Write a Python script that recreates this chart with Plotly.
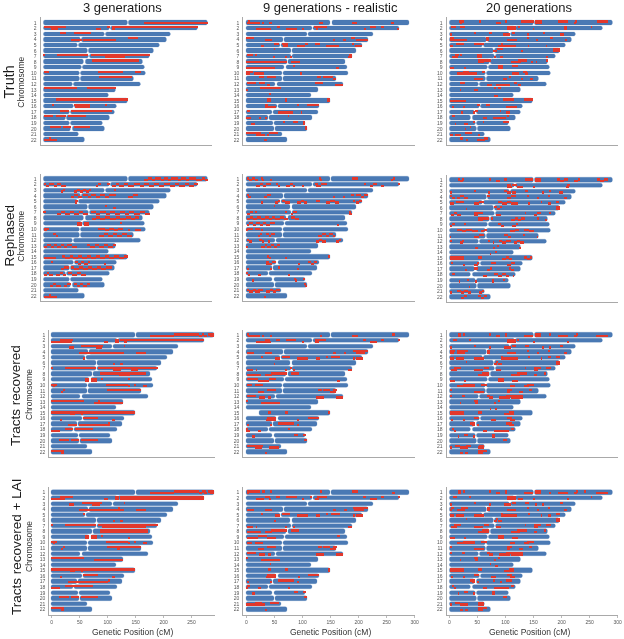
import plotly.graph_objects as go

W, H = 624, 639
CHROMS = list(range(1, 23))
LENGTHS = [291, 273, 226, 218, 207, 196, 189, 176, 179, 181, 160, 173, 128, 115, 149, 130, 127, 118, 105, 109, 63, 73]
CENTRO = {1: 151, 2: 118, 3: 109, 4: 67, 5: 61, 6: 80, 7: 81, 8: 73, 9: 69, 10: 65, 11: 65, 12: 53,
          16: 55, 17: 47, 18: 40, 19: 48, 20: 50}
COL_TITLES = ["3 generations", "9 generations - realistic", "20 generations"]
ROW_TITLES = ["Truth", "Rephased", "Tracts recovered", "Tracts recovered + LAI"]
X_TICKS_3 = [0, 50, 100, 150, 200, 250]
X_TICKS_OTHER = [0, 50, 100, 150, 200, 250, 300]

# Each entry: (chromosome, first haplotype, breakpoints in cM); consecutive intervals alternate haplotype.
TRUTH_3 = [(1,1,[177,291]),(2,0,[0,39]),(2,1,[13,25]),(2,1,[93,101]),(2,0,[113,118]),(2,0,[121,273]),(2,1,[121,126]),
 (3,0,[29,40]),(3,0,[53,84]),(4,1,[48,67]),(4,1,[69,128]),(4,0,[150,168]),(7,0,[0,2]),(7,0,[24,79]),(7,0,[83,189]),(7,1,[109,144]),
 (8,0,[86,169]),(10,0,[0,10]),(10,0,[97,140]),(10,0,[161,172]),(11,0,[98,157]),(13,0,[0,58]),(13,0,[76,128]),(15,0,[22,149]),
 (16,0,[14,18]),(16,0,[54,82]),(16,1,[56,82]),(16,0,[108,112]),(17,0,[28,45]),(17,0,[48,121]),(18,0,[0,16]),(18,0,[22,39]),(18,0,[43,74]),
 (20,0,[11,30]),(20,0,[34,49]),(20,0,[53,82]),(22,1,[0,24]),(22,0,[10,13])]

REPHASED_3 = [(1,1,[178,184,192,197,208,214,220,226,238,244,252,258,270,280,286,291]),(2,0,[0,4,10,18,24,30,39]),(2,1,[93,97,101]),(2,0,[113,118]),
 (2,1,[121,128,134,142,150,160,170,178,186,196,204,214,224,232,240,250,258,266,273]),(3,1,[30,34,38]),(3,1,[53,58,64,70,74,80,84]),(3,0,[126,128]),
 (4,1,[48,54,60,67]),(4,0,[70,78,84,92,100,108,116,128]),(4,1,[150,158,168]),(5,0,[55,60]),(5,1,[56,59]),(6,0,[110,113]),(6,1,[122,128]),
 (7,0,[0,3]),(7,1,[24,30,38,46,54,62,70,79]),(7,0,[83,92,100,110,118,126,136,144,152,160,170,180,189]),(8,1,[86,92,100,108,118,128,136,146,154,162,169]),
 (9,1,[59,68]),(9,0,[59,68]),(9,0,[71,80]),(9,1,[71,80]),(9,0,[136,138]),(10,1,[0,5,10]),(10,0,[0,6]),(10,0,[97,108,116,124,132,140]),(10,1,[150,152]),(10,1,[161,172]),
 (11,0,[18,21]),(11,1,[22,25]),(11,1,[98,106,114,122,130,138,148,157]),(13,1,[0,6,12,18,24,30,36,42,50,58]),(13,0,[76,82,90,98,106,114,122,128]),
 (15,1,[0,22]),(15,0,[33,38,46,52,60,68,76,84,92,100,108,116,124,134,142,149]),(16,0,[14,17]),(16,0,[55,60,66,72,78,82]),(16,1,[108,111]),
 (17,1,[30,36,45]),(17,0,[48,54,62,70,78,86,94,102,110,121]),(18,1,[0,5,10,16]),(18,1,[22,28,34,39]),(18,0,[43,50,58,66,74]),
 (20,1,[11,16,22,30]),(20,1,[36,42,49]),(20,0,[53,58,64,70,76,82]),(22,1,[0,24]),(22,0,[10,13])]

TRACTS_3 = [(1,1,[177,220]),(1,0,[220,264]),(1,1,[264,270]),(1,0,[270,272]),(1,1,[272,278]),(1,0,[280,290]),(1,1,[284,290]),
 (2,1,[0,20]),(2,0,[15,38]),(2,1,[15,37]),(2,1,[94,102]),(2,0,[113,120]),(2,1,[113,120]),(2,0,[123,273]),(2,1,[130,135]),
 (3,1,[31,40]),(3,0,[53,89]),(3,1,[80,90]),(3,0,[89,92]),(3,0,[130,131]),(4,1,[50,129]),(4,1,[152,170]),(5,1,[57,59]),(6,1,[111,113]),(6,1,[122,128]),
 (7,0,[0,3]),(7,0,[25,80]),(7,0,[84,190]),(7,1,[111,125]),(7,1,[143,155]),(8,0,[87,170]),(8,1,[120,140]),(9,0,[60,68]),(9,1,[60,68]),(9,0,[71,82]),(9,1,[71,82]),(9,0,[90,92]),(9,0,[138,140]),
 (10,0,[0,10]),(10,1,[4,6]),(10,0,[98,137]),(10,1,[137,140]),(10,0,[148,150]),(10,1,[163,171]),(11,1,[18,21]),(11,0,[22,25]),(11,0,[99,160]),
 (13,0,[0,59]),(13,0,[84,87]),(13,1,[77,128]),(15,0,[0,149]),(15,1,[34,42]),(15,1,[53,57]),(16,1,[16,19]),(16,0,[56,84]),(16,1,[110,113]),
 (17,1,[30,46]),(17,1,[49,104]),(17,0,[102,105]),(18,1,[0,16]),(18,0,[24,39]),(18,0,[42,74]),(20,0,[13,31]),(20,0,[35,50]),(20,0,[53,84]),(22,0,[0,23]),(22,1,[17,22])]

LAI_3 = [(1,1,[177,220]),(1,0,[220,264]),(1,1,[264,270]),(1,0,[270,276]),(1,1,[272,278]),(1,0,[280,291]),(1,1,[284,291]),
 (2,1,[0,25]),(2,0,[15,38]),(2,1,[94,102]),(2,0,[113,120]),(2,1,[113,120]),(2,0,[123,273]),(2,1,[123,273]),(3,1,[31,40]),(3,0,[54,90]),(3,1,[72,86]),(3,0,[130,131]),
 (4,1,[50,129]),(4,0,[120,122]),(4,1,[152,170]),(5,0,[57,59]),(6,1,[111,113]),(6,1,[122,128]),(7,0,[0,3]),(7,0,[25,80]),(7,0,[84,190]),(7,1,[90,170]),
 (8,0,[87,172]),(8,1,[87,172]),(9,0,[60,68]),(9,1,[60,68]),(9,0,[71,82]),(9,1,[71,82]),(9,0,[90,92]),(9,1,[138,140]),(10,0,[0,10]),(10,1,[4,6]),(10,0,[98,137]),(10,1,[137,140]),(10,0,[148,150]),(10,1,[163,171]),
 (11,1,[18,21]),(11,0,[22,25]),(11,0,[99,160]),(11,1,[118,122]),(13,0,[0,59]),(13,0,[50,52]),(13,1,[77,128]),(15,0,[0,149]),(15,1,[34,42]),(15,1,[53,57]),
 (16,1,[16,19]),(16,0,[56,84]),(16,1,[110,113]),(17,1,[30,102]),(17,0,[102,105]),(18,1,[0,16]),(18,0,[24,74]),(20,0,[13,31]),(20,0,[35,50]),(20,0,[53,84]),(22,0,[0,23]),(22,1,[17,23])]

TRUTH_9 = [(1,1,[1,24]),(1,0,[3,5]),(1,1,[28,32]),(1,1,[41,46]),(1,1,[130,136]),(1,1,[188,198]),(1,1,[258,264]),
 (2,1,[17,44]),(2,0,[55,60]),(2,1,[71,90]),(2,1,[99,103]),(2,0,[121,144]),(2,1,[124,128]),(2,1,[210,214]),(2,0,[220,232]),(2,0,[240,246]),(2,1,[270,272]),
 (4,0,[0,14]),(4,1,[33,46]),(4,1,[154,159]),(4,1,[172,178]),(4,0,[186,194]),(4,1,[196,218]),(5,1,[27,31]),(5,0,[50,59]),(5,0,[63,74]),(5,1,[65,74]),(5,1,[90,104]),(5,0,[104,110]),(5,0,[123,132]),(5,1,[143,166]),(5,0,[189,193]),(5,1,[194,207]),
 (6,0,[50,51]),(7,0,[1,12]),(7,0,[17,19]),(7,1,[49,50]),(7,1,[70,72]),(7,1,[79,81]),(7,1,[182,188]),(7,0,[184,188]),(8,1,[0,72]),(8,1,[79,95]),
 (9,1,[0,52]),(9,0,[84,86]),(9,1,[160,166]),(10,0,[0,12]),(10,1,[0,6]),(10,1,[14,31]),(10,1,[97,99]),(11,0,[22,31]),(11,0,[37,53]),(11,0,[126,133]),(11,0,[136,155]),(11,1,[155,160]),
 (12,0,[1,17]),(12,0,[22,33]),(12,1,[37,43]),(12,0,[123,137]),(12,1,[159,172]),(13,1,[0,2]),(13,0,[25,61]),(14,0,[42,43]),(15,0,[37,44]),(15,1,[37,44]),(15,0,[69,72]),(15,1,[69,72]),(15,0,[144,149]),(15,1,[144,149]),
 (16,1,[34,53]),(16,0,[34,38]),(16,0,[92,94]),(16,0,[108,129]),(17,0,[2,6]),(17,1,[56,84]),(17,1,[98,99]),(18,1,[0,8]),(18,1,[22,27]),(18,1,[34,37]),(18,0,[75,76]),
 (19,1,[9,15]),(19,0,[67,69]),(19,0,[84,92]),(19,0,[101,105]),(19,1,[101,105]),(20,0,[104,108]),(20,1,[104,108]),(21,0,[0,27]),(21,1,[17,33]),(21,0,[40,57]),(21,1,[37,39]),(22,1,[31,36])]

REPHASED_9 = [(1,0,[1,5,10,16,22]),(1,0,[28,30,32]),(1,1,[43,46]),(1,0,[131,133,135]),(1,0,[189,199]),(1,1,[260,262,264]),
 (2,1,[17,24,30,36,44]),(2,0,[54,57,60]),(2,1,[72,78,83,88]),(2,1,[99,103]),(2,0,[122,128,134,144]),(2,1,[124,130]),(2,0,[210,214]),(2,1,[221,227,233]),(2,1,[240,246]),(2,0,[271,273]),
 (4,0,[1,5,8]),(4,1,[32,38,45]),(4,1,[154,159]),(4,1,[173,175]),(4,0,[187,192]),(4,0,[196,204,211,218]),(5,1,[28,30]),(5,1,[51,56,60]),(5,0,[64,70,78]),(5,1,[91,97,103,109]),(5,0,[125,131]),(5,1,[143,150,158,166]),(5,0,[190,194]),(5,1,[196,202,206]),
 (6,0,[50,51]),(7,1,[2,7,12]),(7,0,[17,18]),(7,0,[71,72]),(7,1,[80,84,90]),(7,1,[184,188]),(7,0,[184,186]),
 (8,1,[1,7,13,20,26,33,40,46,52,60,68,75]),(8,0,[80,88,95]),(9,1,[1,6,12,18,24,30,36,42,51]),(9,1,[162,166]),(10,0,[1,12]),(10,1,[1,4]),(10,0,[15,24]),(10,1,[27,29]),
 (11,1,[23,25,28]),(11,0,[36,40,45,51]),(11,1,[128,136,142,148,154,159]),(12,0,[1,6,11]),(12,0,[23,28,32]),(12,1,[39,43]),(12,1,[124,130,136,143]),(12,1,[160,165,170]),
 (13,1,[1,3]),(13,1,[27,33,38,44,50,55,60]),(15,0,[39,41,44]),(15,1,[71,73]),(15,0,[146,149]),(16,0,[35,41,47,54]),(16,1,[35,40]),(16,1,[93,95]),(16,0,[110,116,121,127]),
 (17,1,[3,5]),(17,1,[44,46]),(17,0,[56,60]),(17,1,[92,93]),(18,0,[1,3,7]),(18,1,[23,26]),(18,1,[76,77]),(19,1,[12,14]),(19,0,[86,88,91]),(19,0,[103,105]),(20,0,[104,106,108]),
 (21,0,[1,6,12,18,24,30]),(21,1,[15,22,28]),(21,1,[36,42,48,54,60]),(22,1,[33,36])]

TRACTS_9 = [(1,1,[3,24]),(1,0,[3,6]),(1,1,[28,32]),(1,1,[43,46]),(1,1,[131,136]),(1,1,[189,199]),(1,0,[260,265]),
 (2,1,[17,44]),(2,0,[34,42]),(2,0,[54,61]),(2,0,[71,89]),(2,1,[99,103]),(2,0,[122,142]),(2,1,[122,130]),(2,0,[210,213]),(2,1,[221,233]),(2,0,[240,246]),(2,0,[271,273]),
 (4,1,[1,14]),(4,1,[33,46]),(4,1,[155,160]),(4,1,[174,178]),(4,0,[191,218]),(4,1,[196,212]),(5,0,[28,31]),(5,1,[51,60]),(5,0,[64,78]),(5,1,[91,110]),(5,1,[125,131]),(5,0,[143,146]),(5,0,[152,167]),(5,1,[190,194]),(5,1,[196,208]),
 (6,1,[50,51]),(7,1,[1,12]),(7,1,[18,19]),(7,1,[71,72]),(7,0,[80,82]),(7,1,[85,87]),(7,1,[182,188]),(8,1,[1,27]),(8,1,[34,46]),(8,0,[44,73]),(8,0,[80,95]),
 (9,0,[1,22]),(9,1,[22,40]),(9,0,[40,53]),(9,1,[162,167]),(10,0,[1,11]),(10,0,[15,30]),(11,1,[22,32]),(11,0,[37,53]),(11,0,[128,135]),(11,0,[137,150]),(11,1,[150,160]),(11,0,[155,162]),
 (12,0,[1,17]),(12,1,[23,33]),(12,1,[39,44]),(12,1,[124,138]),(12,1,[160,172]),(13,0,[0,3]),(13,1,[27,61]),(15,0,[39,45]),(15,0,[71,74]),(15,0,[146,149]),
 (16,1,[35,54]),(16,0,[38,54]),(16,1,[92,94]),(16,0,[110,130]),(17,1,[3,6]),(17,1,[44,46]),(17,0,[56,85]),(17,1,[92,94]),(18,0,[0,3]),(18,1,[0,7]),(18,1,[22,27]),(18,0,[76,78]),
 (19,1,[12,15]),(19,0,[85,92]),(19,0,[103,106]),(20,0,[104,109]),(21,0,[2,31]),(21,1,[15,29]),(21,1,[41,58]),(22,1,[33,37])]

LAI_9 = [(1,0,[2,24]),(1,1,[3,6]),(1,0,[29,33]),(1,0,[44,47]),(1,0,[132,136]),(1,0,[189,199]),(1,1,[260,266]),
 (2,1,[17,32]),(2,0,[34,42]),(2,1,[40,44]),(2,0,[54,61]),(2,0,[71,90]),(2,1,[100,104]),(2,0,[115,117]),(2,0,[127,144]),(2,1,[122,130]),(2,0,[210,213]),(2,1,[221,233]),(2,0,[240,246]),(2,0,[271,273]),
 (4,1,[1,14]),(4,1,[33,46]),(4,1,[155,160]),(4,1,[174,180]),(4,0,[191,218]),(4,1,[192,210]),(5,0,[28,31]),(5,1,[51,60]),(5,0,[64,78]),(5,1,[91,110]),(5,1,[125,131]),(5,0,[143,146]),(5,0,[152,167]),(5,1,[190,194]),(5,1,[196,208]),
 (6,1,[50,52]),(7,1,[1,12]),(7,1,[18,19]),(7,1,[70,72]),(7,1,[85,87]),(7,1,[182,189]),(8,1,[1,27]),(8,1,[34,46]),(8,0,[44,73]),(8,0,[80,95]),
 (9,0,[22,38]),(9,1,[1,22]),(9,1,[38,53]),(9,0,[162,167]),(10,1,[1,11]),(10,1,[15,30]),(11,1,[22,32]),(11,0,[37,53]),(11,0,[128,135]),(11,0,[137,150]),(11,1,[150,160]),(11,0,[155,162]),
 (12,0,[1,17]),(12,1,[23,33]),(12,1,[39,44]),(12,1,[124,138]),(12,1,[160,172]),(13,0,[0,3]),(13,1,[27,61]),(14,0,[43,44]),(15,0,[39,45]),(15,0,[71,74]),(15,0,[146,149]),(15,1,[146,149]),
 (16,1,[35,54]),(16,0,[38,54]),(16,1,[93,95]),(16,0,[110,130]),(17,1,[3,6]),(17,1,[44,46]),(17,0,[56,85]),(17,1,[92,94]),(18,1,[0,3]),(18,0,[2,7]),(18,1,[22,27]),(18,1,[76,78]),
 (19,1,[12,15]),(19,0,[85,92]),(19,0,[103,106]),(20,0,[104,109]),(21,1,[0,33]),(21,0,[15,29]),(21,0,[42,58]),(22,1,[33,37])]

TRUTH_20 = [(1,0,[16,26]),(1,1,[18,22]),(1,0,[54,55]),(1,1,[83,91]),(1,0,[99,101]),(1,0,[128,151]),(1,0,[153,164]),(1,1,[153,164]),(1,0,[193,211]),(1,0,[224,227]),(1,1,[221,225]),(1,0,[263,282]),
 (2,0,[2,12]),(2,0,[19,28]),(2,0,[103,118]),(2,1,[103,118]),(2,0,[121,126]),(2,1,[149,150]),(2,0,[204,209]),(2,1,[204,209]),(2,0,[252,253]),
 (3,1,[1,3]),(3,0,[44,46]),(3,0,[71,76]),(3,1,[96,108]),(3,0,[111,117]),(3,1,[137,141]),(3,0,[167,169]),(3,1,[196,204]),
 (4,0,[0,7]),(4,1,[0,7]),(4,1,[7,31]),(4,0,[65,70]),(4,1,[65,70]),(4,1,[103,120]),(4,0,[138,141]),(4,1,[155,156]),(4,0,[178,184]),(4,1,[205,209]),
 (5,1,[1,6]),(5,0,[12,26]),(5,0,[44,62]),(5,1,[87,119]),(5,0,[93,96]),(5,1,[140,141]),(5,1,[172,173]),(6,1,[78,84]),(6,0,[85,96]),(6,1,[128,129]),(6,0,[185,196]),(6,1,[185,196]),
 (7,1,[4,15]),(7,0,[10,16]),(7,0,[20,21]),(7,0,[48,57]),(7,1,[48,57]),(7,1,[79,83]),(7,1,[90,95]),(7,1,[172,176]),(8,0,[51,62]),(8,1,[51,62]),(8,0,[62,73]),(8,1,[109,127]),(8,0,[122,138]),(8,1,[146,148]),(8,1,[154,155]),(8,0,[172,176]),
 (9,1,[1,7]),(9,1,[25,29]),(9,0,[87,96]),(9,1,[87,96]),(9,0,[111,122]),(10,0,[24,34]),(10,1,[14,49]),(10,0,[57,63]),(10,1,[112,124]),(10,0,[131,137]),(10,1,[134,140]),
 (11,1,[43,60]),(11,1,[96,102]),(11,0,[105,109]),(11,1,[128,131]),(11,1,[143,149]),(12,0,[19,27]),(12,1,[66,75]),(12,1,[83,107]),(12,0,[114,120]),(12,1,[122,128]),
 (13,1,[19,20]),(13,1,[43,50]),(13,0,[79,83]),(13,0,[87,91]),(14,1,[79,86]),(15,1,[0,30]),(15,0,[96,115]),(15,0,[132,149]),(16,1,[5,7]),(16,1,[24,28]),(16,0,[49,54]),(16,0,[65,72]),(16,1,[100,120]),
 (17,1,[22,24]),(17,1,[41,45]),(17,0,[46,50]),(17,0,[90,91]),(17,1,[101,107]),(18,0,[4,10]),(18,1,[60,66]),(18,1,[78,100]),(18,0,[103,106]),(19,1,[10,11]),(19,1,[26,32]),(19,0,[43,46]),(19,0,[60,61]),(19,0,[96,105]),
 (20,1,[28,29]),(20,0,[37,38]),(21,1,[1,6]),(21,1,[10,20]),(21,0,[28,40]),(21,1,[50,54]),(22,0,[19,24]),(22,1,[29,33]),(22,1,[48,63]),(22,0,[62,68])]

REPHASED_20 = [(1,0,[15,19,23,26]),(1,0,[71,73]),(1,1,[82,90]),(1,0,[97,102]),(1,0,[135,149]),(1,0,[153,163]),(1,1,[153,163]),(1,0,[192,197,203,211]),(1,1,[222,228,233]),(1,0,[262,268,275,282]),
 (2,1,[103,112,120,130]),(2,0,[103,110]),(2,1,[150,151]),(2,0,[209,214]),(2,1,[209,212]),(3,1,[1,5]),(3,0,[45,47]),(3,1,[70,72]),(3,0,[97,103,110]),(3,1,[112,118]),(3,0,[135,140]),(3,1,[166,167]),(3,0,[178,179]),(3,1,[195,202]),
 (4,0,[1,5,9]),(4,1,[14,19,25,33]),(4,0,[67,72]),(4,1,[103,110,118]),(4,0,[138,140]),(4,1,[157,158]),(4,0,[177,178]),(4,1,[203,210]),(5,1,[1,7]),(5,0,[12,26]),(5,1,[44,52,62]),(5,0,[86,94,102,110,121]),(5,1,[141,143]),(5,0,[163,164]),(5,1,[177,180]),(5,0,[190,195]),
 (6,1,[30,31]),(6,0,[79,84,89,94]),(6,0,[189,196]),(6,1,[189,196]),(7,1,[2,8,14,20]),(7,1,[44,50,59]),(7,0,[44,54]),(7,1,[82,92]),(7,0,[135,136]),(7,1,[150,156,162]),(7,0,[177,181]),
 (8,1,[51,60,70]),(8,0,[51,60]),(8,0,[74,77]),(8,1,[110,116,122,128,135]),(8,0,[156,158]),(8,1,[171,172]),(9,1,[1,5,9]),(9,0,[26,28]),(9,0,[86,92,97]),(9,1,[112,118,122]),
 (10,0,[14,22,30,40,50]),(10,1,[56,62,67]),(10,1,[108,116,124]),(10,0,[133,142,150]),(11,1,[1,2]),(11,1,[43,52,62]),(11,0,[97,104,110]),(11,0,[130,135]),(11,1,[156,157]),
 (12,0,[1,3]),(12,1,[19,23,26]),(12,0,[70,72]),(12,1,[78,79]),(12,0,[88,94,101,109]),(12,1,[114,120,126,133]),(13,1,[45,50]),(13,1,[79,80]),(13,0,[86,88]),(13,1,[124,128]),(14,1,[72,73]),(14,0,[80,84]),
 (15,0,[1,25]),(15,1,[1,25]),(15,0,[50,57]),(15,1,[94,100,106,112]),(15,0,[133,138,143,147]),(16,0,[3,5]),(16,1,[25,26]),(16,1,[44,50,53]),(16,0,[73,82]),(16,1,[103,110,116]),
 (17,1,[29,30]),(17,0,[44,50]),(17,1,[67,72,76]),(17,0,[106,110,115]),(18,0,[4,9]),(18,1,[59,67]),(18,0,[79,86,94,100,106]),(18,1,[113,114]),(19,1,[17,18]),(19,0,[32,33]),(19,1,[47,49]),(19,0,[76,79]),(19,1,[76,79]),(19,0,[96,97]),
 (20,1,[35,36]),(21,1,[1,3]),(21,0,[14,20,26,32,38]),(21,1,[53,58,62]),(22,1,[20,25,31]),(22,0,[50,56,62,67])]

TRACTS_20 = [(1,0,[15,20]),(1,1,[15,20]),(1,0,[25,26]),(1,0,[71,73]),(1,1,[82,90]),(1,0,[98,102]),(1,1,[98,102]),(1,1,[132,149]),(1,0,[153,163]),(1,1,[153,163]),(1,0,[178,179]),(1,1,[193,211]),(1,1,[222,227]),(1,0,[226,229]),(1,1,[261,282]),
 (2,0,[6,13]),(2,0,[36,37]),(2,0,[103,118]),(2,1,[103,118]),(2,0,[121,124]),(2,1,[150,151]),(2,1,[209,213]),(3,1,[1,5]),(3,0,[45,47]),(3,1,[71,72]),(3,1,[97,110]),(3,0,[112,118]),(3,0,[135,141]),(3,1,[166,167]),(3,1,[178,179]),(3,0,[196,202]),
 (4,0,[1,9]),(4,1,[1,7]),(4,0,[14,33]),(4,1,[14,28]),(4,0,[67,72]),(4,1,[67,72]),(4,1,[103,118]),(4,0,[138,140]),(4,1,[157,158]),(4,0,[177,178]),(4,1,[203,210]),
 (5,1,[1,7]),(5,1,[12,26]),(5,1,[44,62]),(5,0,[92,95]),(5,1,[92,121]),(5,0,[141,143]),(5,1,[163,164]),(5,0,[177,180]),(5,0,[190,196]),(6,0,[30,31]),(6,1,[79,84]),(6,0,[82,86]),(6,1,[86,94]),(6,0,[189,196]),(6,1,[189,196]),
 (7,1,[2,14]),(7,0,[8,20]),(7,1,[44,59]),(7,0,[62,70]),(7,1,[82,92]),(7,0,[135,136]),(7,0,[150,162]),(7,1,[150,158]),(7,0,[172,181]),(8,1,[51,70]),(8,0,[58,70]),(8,1,[110,125]),(8,0,[120,138]),(8,1,[150,155]),(8,0,[168,172]),
 (9,1,[1,9]),(9,1,[26,28]),(9,0,[86,97]),(9,1,[86,97]),(9,1,[112,122]),(10,0,[24,46]),(10,1,[14,46]),(10,0,[56,66]),(10,1,[108,117]),(10,1,[133,142]),(10,0,[138,150]),
 (11,0,[1,3]),(11,1,[43,62]),(11,0,[103,111]),(11,1,[103,108]),(11,1,[123,130]),(11,0,[142,146]),(12,0,[1,3]),(12,0,[22,28]),(12,0,[66,72]),(12,1,[70,78]),(12,1,[88,107]),(12,0,[100,130]),(12,1,[110,130]),
 (13,1,[19,20]),(13,0,[44,50]),(13,1,[47,50]),(13,1,[80,81]),(13,0,[87,90]),(14,1,[72,73]),(14,1,[80,84]),(15,0,[1,25]),(15,1,[1,25]),(15,0,[50,58]),(15,1,[97,115]),(15,0,[105,115]),(16,1,[3,5]),(16,1,[24,26]),(16,0,[44,53]),(16,1,[73,82]),(16,0,[103,112]),(16,1,[108,116]),
 (17,0,[36,46]),(17,1,[40,46]),(17,1,[50,53]),(17,0,[100,112]),(17,1,[106,115]),(18,0,[4,8]),(18,1,[8,10]),(18,1,[59,66]),(18,1,[79,106]),(18,0,[110,114]),(19,1,[15,16]),(19,0,[26,32]),(19,1,[43,46]),(19,0,[76,80]),(19,1,[76,80]),(20,0,[96,102]),
 (21,1,[1,3]),(21,0,[10,18]),(21,1,[18,32]),(21,0,[30,38]),(21,1,[50,62]),(21,0,[52,62]),(22,1,[20,23]),(22,1,[28,32]),(22,0,[50,66]),(22,1,[50,60])]

LAI_20 = [(1,0,[15,20]),(1,1,[15,20]),(1,0,[25,26]),(1,0,[71,73]),(1,1,[82,90]),(1,0,[98,102]),(1,1,[98,102]),(1,1,[132,149]),(1,0,[153,163]),(1,1,[153,163]),(1,1,[178,179]),(1,1,[193,211]),(1,1,[222,227]),(1,0,[226,229]),(1,0,[241,243]),(1,1,[261,282]),
 (2,0,[6,13]),(2,0,[36,37]),(2,0,[103,118]),(2,1,[103,118]),(2,1,[122,130]),(2,1,[150,151]),(2,1,[209,213]),(2,0,[252,253]),(3,1,[1,3]),(3,0,[45,47]),(3,1,[71,74]),(3,1,[97,110]),(3,0,[112,118]),(3,0,[135,141]),(3,1,[152,156]),(3,1,[166,169]),(3,0,[196,202]),
 (4,1,[1,5]),(4,0,[3,7]),(4,1,[14,28]),(4,0,[20,33]),(4,0,[67,72]),(4,1,[67,72]),(4,1,[103,118]),(4,0,[138,140]),(4,1,[157,158]),(4,0,[177,178]),(4,1,[203,210]),
 (5,1,[1,7]),(5,1,[12,26]),(5,1,[44,62]),(5,0,[92,95]),(5,1,[92,120]),(5,0,[141,143]),(5,1,[163,164]),(5,1,[177,180]),(5,0,[190,196]),(6,0,[30,31]),(6,1,[79,84]),(6,0,[82,86]),(6,1,[86,94]),(6,0,[189,196]),(6,1,[189,196]),
 (7,1,[2,14]),(7,0,[8,20]),(7,1,[44,59]),(7,0,[62,70]),(7,1,[82,92]),(7,0,[135,136]),(7,0,[150,162]),(7,1,[150,158]),(7,0,[172,181]),(8,1,[51,70]),(8,0,[58,70]),(8,1,[110,125]),(8,0,[120,138]),(8,1,[150,155]),(8,0,[168,172]),
 (9,1,[1,9]),(9,1,[26,28]),(9,0,[86,97]),(9,1,[86,97]),(9,1,[112,122]),(10,0,[24,46]),(10,1,[14,46]),(10,0,[56,66]),(10,1,[108,117]),(10,1,[133,142]),(10,0,[138,150]),
 (11,0,[1,3]),(11,1,[43,62]),(11,0,[103,111]),(11,1,[103,108]),(11,1,[123,130]),(11,0,[142,146]),(12,0,[1,3]),(12,0,[22,28]),(12,0,[66,72]),(12,1,[70,78]),(12,1,[88,107]),(12,0,[100,130]),(12,1,[110,130]),
 (13,1,[19,20]),(13,0,[44,50]),(13,1,[47,50]),(13,1,[80,81]),(13,0,[87,90]),(14,0,[72,73]),(14,1,[80,86]),(15,0,[1,25]),(15,1,[1,25]),(15,0,[50,58]),(15,1,[97,115]),(15,0,[105,115]),(16,1,[3,5]),(16,1,[24,26]),(16,0,[44,53]),(16,1,[73,82]),(16,0,[103,112]),(16,1,[108,116]),
 (17,0,[36,46]),(17,1,[40,46]),(17,1,[50,53]),(17,0,[78,80]),(17,1,[90,92]),(17,0,[100,112]),(18,0,[4,8]),(18,1,[8,10]),(18,1,[59,66]),(18,1,[79,106]),(18,0,[110,114]),(19,1,[15,16]),(19,0,[26,32]),(19,1,[43,46]),(19,0,[76,80]),(19,1,[76,80]),(20,0,[96,102]),
 (21,1,[1,3]),(21,0,[10,18]),(21,1,[18,32]),(21,0,[50,62]),(21,1,[50,62]),(22,1,[20,23]),(22,1,[28,32]),(22,0,[50,66]),(22,1,[50,60])]

PANEL_DATA = [[TRUTH_3, TRUTH_9, TRUTH_20], [REPHASED_3, REPHASED_9, REPHASED_20],
              [TRACTS_3, TRACTS_9, TRACTS_20], [LAI_3, LAI_9, LAI_20]]

# Panel frames in pixels: left, right, top, bottom, x value at left, x value at right
FRAMES = [
    [(40.7, 212, 17.3, 145, -5, 299), (243.3, 415, 17.3, 145, -6, 300.5), (446.7, 618, 17.3, 145, -4.6, 300.5)],
    [(40.7, 212, 173.5, 301, -5, 299), (243.3, 415, 173.5, 301, -5.5, 300.5), (446.7, 618, 174.5, 302, -4.6, 300.5)],
    [(49.3, 215, 329.5, 457, -4.3, 292), (243.3, 415, 329.5, 457, -5.5, 300.5), (446.7, 618, 329.5, 457, -4.6, 300.5)],
    [(49.3, 215, 487, 614.5, -4.3, 292), (243.3, 415, 487, 614.5, -5.5, 300.5), (446.7, 618, 487, 614.5, -4.6, 300.5)],
]
BLUE, RED, AXIS, TEXT = "#4a79b4", "#e2382c", "#a9a9a9", "#1a1a1a"
GAP = 2.0
HAP_OFFSET = 0.16
fig = go.Figure()
layout = {}
for r in range(4):
    for c in range(3):
        n = r * 3 + c + 1
        xn, yn = f"x{n}", f"y{n}"
        L, R, T, B, x0, x1 = FRAMES[r][c]
        bl_y, bl_b, bl_x = [], [], []
        for chrom, length in zip(CHROMS, LENGTHS):
            start = 23 if (r == 2 and c == 1 and chrom == 15) else 0
            cen = CENTRO.get(chrom)
            if cen is None:
                bl_y.append(chrom); bl_b.append(start); bl_x.append(length - start)
            else:
                bl_y += [chrom, chrom]
                bl_b += [start, cen + GAP / 2]
                bl_x += [cen - GAP / 2 - start, length - cen - GAP / 2]
        fig.add_trace(go.Bar(orientation="h", y=bl_y, base=bl_b, x=bl_x, width=0.8, xaxis=xn, yaxis=yn,
                             marker=dict(color=BLUE, cornerradius=2, line=dict(color="rgba(74,121,180,0.35)", width=0.6)),
                             hoverinfo="skip", showlegend=False))
        for hap, off in ((0, -HAP_OFFSET), (1, HAP_OFFSET)):
            ry, rb, rx = [], [], []
            for chrom, first, br in PANEL_DATA[r][c]:
                for i in range(len(br) - 1):
                    if (first + i) % 2 == hap:
                        ry.append(chrom + off); rb.append(br[i]); rx.append(br[i + 1] - br[i])
            fig.add_trace(go.Bar(orientation="h", y=ry, base=rb, x=rx, width=0.3, xaxis=xn, yaxis=yn,
                                 marker=dict(color=RED, line=dict(width=0)), hoverinfo="skip", showlegend=False))
        ticks = X_TICKS_3 if c == 0 else X_TICKS_OTHER
        xkey = "xaxis" if n == 1 else f"xaxis{n}"
        ykey = "yaxis" if n == 1 else f"yaxis{n}"
        layout[xkey] = dict(domain=[L / W, R / W], range=[x0, x1], anchor=yn, showgrid=False, zeroline=False, automargin=False,
                            showline=True, linecolor=AXIS, linewidth=1.2,
                            tickvals=ticks if r == 3 else [], ticks="outside" if r == 3 else "", ticklen=2, tickcolor="#bbbbbb", tickwidth=0.6,
                            tickfont=dict(size=5, color="#555555", family="Liberation Sans"))
        layout[ykey] = dict(domain=[1 - B / H, 1 - T / H], range=[22.9, -0.02], anchor=xn, showgrid=False, zeroline=False, automargin=False,
                            showline=True, linecolor=AXIS, linewidth=1.2, tickvals=CHROMS, ticktext=[str(v) for v in CHROMS],
                            ticks="outside", ticklen=2, tickcolor="rgba(0,0,0,0)", tickwidth=0.5,
                            tickfont=dict(size=5, color="#555555", family="Liberation Sans"))

annotations = []
def label(x, y, text, size, angle=0, color=TEXT):
    annotations.append(dict(x=x / W, y=1 - y / H, xref="paper", yref="paper", text=text, showarrow=False,
                            xanchor="center", yanchor="middle", textangle=angle,
                            font=dict(size=size, color=color, family="Liberation Sans")))
for cx, title in zip((122, 330, 529), COL_TITLES):
    label(cx, 7.5, title, 13)
for (x, y, s), title in zip([(8.5, 82, 14.5), (8.5, 236, 13.5), (16, 396, 13.5), (16, 547, 13.5)], ROW_TITLES):
    label(x, y, title, s, -90)
for x, y in [(20.7, 82), (20.7, 236), (29, 395), (29, 547)]:
    label(x, y, "Chromosome", 8.5, -90, "#333333")
for cx in (132, 330, 529):
    label(cx, 632, "Genetic Position (cM)", 8.5, 0, "#333333")

fig.update_layout(width=W, height=H, margin=dict(l=0, r=0, t=0, b=0), barmode="overlay", bargap=0,
                  paper_bgcolor="white", plot_bgcolor="white", annotations=annotations, **layout)
fig.write_html("out.html", config={"displayModeBar": False},
               post_script="var b=document.body,g=document.querySelector('.plotly-graph-div');"
                           "document.documentElement.style.overflow='hidden';"
                           "b.style.margin='0';b.style.width='624px';b.style.height='639px';b.style.overflow='hidden';"
                           "g.style.filter='blur(0.45px)';")
